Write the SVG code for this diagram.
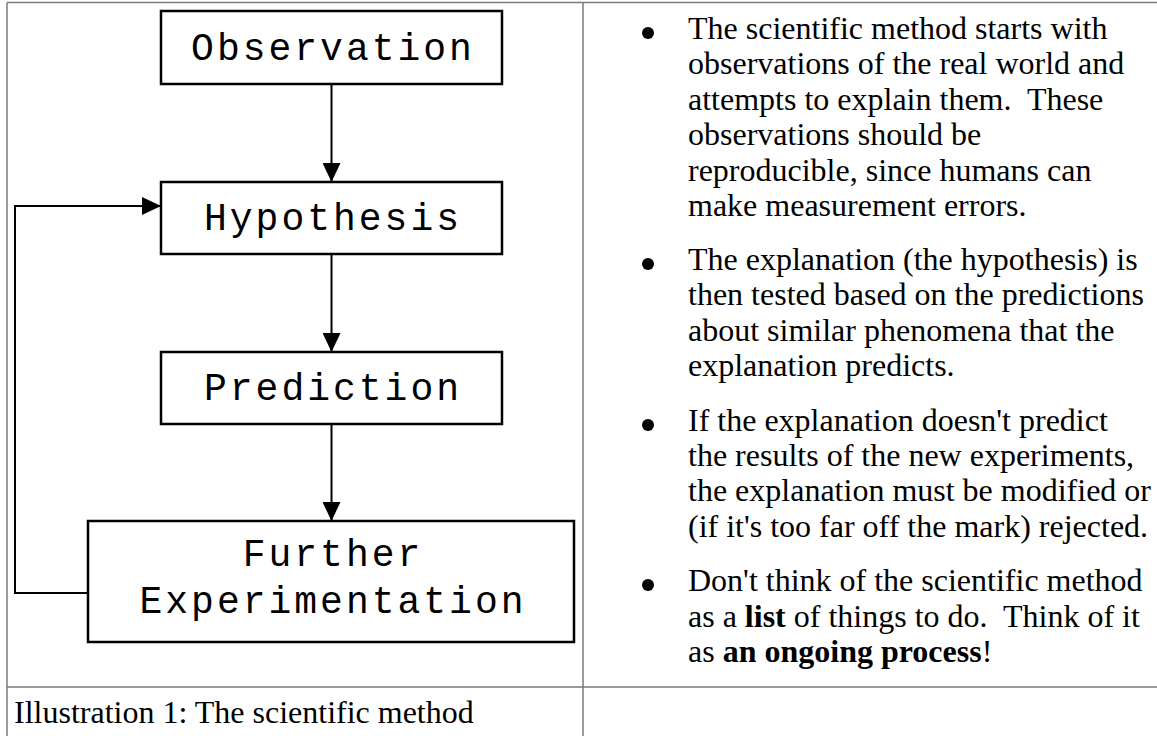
<svg xmlns="http://www.w3.org/2000/svg" width="1157" height="736" viewBox="0 0 1157 736">
<style>
.grid{stroke:#7a7a7a;stroke-width:1.5;fill:none}
.box{fill:#fff;stroke:#000;stroke-width:2.5}
.lbl{font-family:"Liberation Mono","Courier New",monospace;font-size:38px;letter-spacing:3px;fill:#000;text-anchor:middle}
.conn{stroke:#000;stroke-width:2;fill:none}
.body{font-family:"Liberation Serif","Times New Roman",serif;font-size:32px;fill:#000;white-space:pre}
.b{font-weight:bold}
</style>
<defs>
<marker id="ah" markerUnits="userSpaceOnUse" markerWidth="19" markerHeight="18" refX="19" refY="9" orient="auto">
<path d="M0,0 L19,9 L0,18 z" fill="#000"/>
</marker>
</defs>
<rect width="1157" height="736" fill="#fff"/>
<g id="table">
<line class="grid" x1="7" y1="2.5" x2="1157" y2="2.5"/>
<line class="grid" x1="7" y1="2.5" x2="7" y2="736"/>
<line class="grid" x1="583" y1="2.5" x2="583" y2="736"/>
<line class="grid" x1="7" y1="687" x2="1157" y2="687"/>
</g>
<g id="connectors">
<line class="conn" x1="331.5" y1="84" x2="331.5" y2="182" marker-end="url(#ah)"/>
<line class="conn" x1="331.5" y1="254" x2="331.5" y2="352" marker-end="url(#ah)"/>
<line class="conn" x1="331.5" y1="424" x2="331.5" y2="521" marker-end="url(#ah)"/>
<path class="conn" d="M88,593 H15 V206 H161" marker-end="url(#ah)"/>
</g>
<g id="observation">
<rect class="box" x="161" y="11" width="341" height="73"/>
<text class="lbl" x="333" y="60">Observation</text>
</g>
<g id="hypothesis">
<rect class="box" x="161" y="182" width="341" height="72"/>
<text class="lbl" x="333" y="230">Hypothesis</text>
</g>
<g id="prediction">
<rect class="box" x="161" y="352" width="341" height="72"/>
<text class="lbl" x="333" y="400">Prediction</text>
</g>
<g id="further">
<rect class="box" x="88" y="521" width="486" height="121"/>
<text class="lbl" x="333" y="566">Further</text>
<text class="lbl" x="333" y="613">Experimentation</text>
</g>
<g id="caption">
<text class="body" x="14" y="723">Illustration 1: The scientific method</text>
</g>
<g id="bullets">
<circle cx="648" cy="33" r="6"/>
<circle cx="648" cy="264" r="6"/>
<circle cx="648" cy="425" r="6"/>
<circle cx="648" cy="585" r="6"/>
<text class="body" x="688" y="39">The scientific method starts with</text>
<text class="body" x="688" y="74.4">observations of the real world and</text>
<text class="body" x="688" y="109.8">attempts to explain them.  These</text>
<text class="body" x="688" y="145.2">observations should be</text>
<text class="body" x="688" y="180.6">reproducible, since humans can</text>
<text class="body" x="688" y="216">make measurement errors.</text>
<text class="body" x="688" y="270">The explanation (the hypothesis) is</text>
<text class="body" x="688" y="305.4">then tested based on the predictions</text>
<text class="body" x="688" y="340.8">about similar phenomena that the</text>
<text class="body" x="688" y="376.2">explanation predicts.</text>
<text class="body" x="688" y="430.6">If the explanation doesn't predict</text>
<text class="body" x="688" y="466">the results of the new experiments,</text>
<text class="body" x="688" y="501.4">the explanation must be modified or</text>
<text class="body" x="688" y="536.8">(if it's too far off the mark) rejected.</text>
<text class="body" x="688" y="591.2">Don't think of the scientific method</text>
<text class="body" x="688" y="626.6">as a <tspan class="b">list</tspan> of things to do.  Think of it</text>
<text class="body" x="688" y="662">as <tspan class="b">an ongoing process</tspan>!</text>
</g>
</svg>
